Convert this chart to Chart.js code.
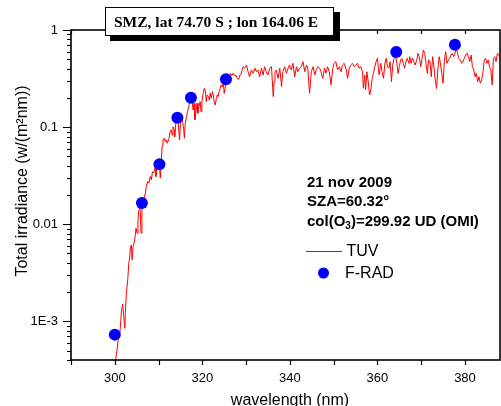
<!DOCTYPE html>
<html>
<head>
<meta charset="utf-8">
<script src="https://cdn.jsdelivr.net/npm/chart.js@4.4.1/dist/chart.umd.min.js"></script>
<style>
html,body{margin:0;padding:0;background:#fff;}
#wrap{width:501px;height:406px;position:relative;}
</style>
</head>
<body>
<div id="wrap"><canvas id="c" width="501" height="406"></canvas></div>
<script>
// ---- data ----
const tuvWavelength = [
299.9,300.16,300.4,300.8,301.07,301.3,301.5,301.8,302.05,302.3,302.4,302.66,302.96,303.2,303.4,303.57,303.8,303.95,304.2,304.55,304.86,305.1,305.3,305.45,305.7,305.84,306.0,306.2,306.6,307.0,
307.2,307.5,307.8,308.1,308.35,308.6,308.86,309.2,309.4,309.6,309.9,310.2,310.4,310.6,310.8,311.0,311.3,311.5,311.75,312.0,312.4,312.66,312.9,313.1,313.3,313.6,313.7,313.95,314.2,314.4,314.6,314.8,315.0,315.2,315.45,315.7,315.9,316.1,316.4,316.6,316.9,317.2,317.4,317.66,317.9,318.1,318.3,318.6,318.8,319.0,319.25,319.5,319.7,319.9,320.2,320.45,320.7,320.9,321.1,321.4,321.6,321.8,322.05,322.3,322.5,322.7,322.95,323.2,323.4,323.6,323.9,324.1,324.3,324.55,324.8,325.0,325.2,325.45,325.7,325.9,326.1,326.45,326.75,327.0,327.4,327.66,327.95,328.3,
328.6,328.9,329.3,329.7,330.1,330.45,330.8,331.2,331.6,332.0,332.4,332.7,333.1,333.5,333.9,334.2,334.6,335.0,335.4,335.8,336.2,336.4,336.6,336.9,337.3,337.7,338.1,338.4,338.8,339.2,339.6,339.9,340.3,340.7,341.1,341.5,341.8,342.2,342.6,343.0,343.4,343.8,344.1,344.5,344.9,345.3,345.7,346.0,346.4,346.8,
347.1,347.5,347.9,348.25,348.6,349.0,349.4,349.8,350.1,350.5,350.9,351.3,351.7,352.0,352.4,352.8,353.2,353.55,353.9,354.3,354.7,355.1,355.45,355.8,356.2,356.6,356.8,357.1,357.3,357.6,357.9,358.2,358.5,358.8,359.1,359.4,359.7,360.0,360.2,360.4,360.75,361.05,361.4,361.7,362.0,362.3,362.6,362.9,363.2,363.5,363.8,364.1,364.4,364.7,365.0,365.3,365.6,365.9,366.2,366.5,366.8,367.2,
367.4,367.7,368.0,368.3,368.6,369.0,369.25,369.55,369.9,370.2,370.5,370.8,371.1,371.4,371.7,372.0,372.3,372.6,372.9,373.2,373.5,373.8,374.1,374.4,374.7,375.0,375.3,375.6,375.9,376.2,376.5,376.8,377.1,377.4,377.7,378.0,378.3,378.6,378.95,379.25,379.55,379.85,380.2,380.5,380.8,381.1,381.4,381.7,382.0,382.3,382.6,382.9,383.2,383.5,383.8,384.1,384.4,384.7,385.0,385.3,385.6,385.9,386.2,386.5,386.8,387.1,387.4,387.7,388.0
];
const tuvIrradiance = [
0.00035,0.00040,0.00046,0.00065,0.00070,0.00089,0.00126,0.0015,0.00112,0.00085,0.0012,0.00196,0.00268,0.0039,0.0046,0.0059,0.0061,0.0043,0.0059,0.0069,0.0091,0.0081,0.011,0.0135,0.0152,0.013,0.0081,0.014,0.0178,0.021,
0.0244,0.0275,0.0265,0.031,0.0286,0.0348,0.0336,0.0378,0.031,0.0393,0.0363,0.0408,0.0298,0.0425,0.063,0.0738,0.0769,0.071,0.0738,0.0683,0.0769,0.09,0.0936,0.083,0.101,0.0936,0.0798,0.1097,0.119,0.1336,0.0936,0.0738,0.1097,0.128,0.114,0.101,0.0769,0.1097,0.128,0.1445,0.1625,0.190,0.206,0.190,0.150,0.176,0.119,0.150,0.176,0.139,0.1625,0.183,0.1445,0.183,0.223,0.251,0.232,0.183,0.214,0.206,0.190,0.223,0.198,0.232,0.214,0.183,0.169,0.198,0.214,0.206,0.241,0.251,0.272,0.26,0.283,0.223,0.251,0.294,0.318,0.344,0.33,0.358,0.337,0.358,0.337,0.344,0.318,0.31,
0.344,0.358,0.419,0.404,0.436,0.372,0.33,0.388,0.358,0.404,0.372,0.388,0.33,0.404,0.344,0.419,0.372,0.344,0.404,0.419,0.206,0.294,0.372,0.388,0.318,0.404,0.261,0.372,0.419,0.358,0.404,0.436,0.388,0.454,0.33,0.419,0.372,0.404,0.419,0.472,0.372,0.436,0.404,0.223,0.372,0.419,0.344,0.388,0.419,0.404,
0.372,0.318,0.404,0.358,0.419,0.372,0.272,0.404,0.454,0.472,0.388,0.419,0.372,0.436,0.454,0.404,0.318,0.404,0.436,0.454,0.419,0.436,0.454,0.404,0.419,0.372,0.251,0.344,0.241,0.372,0.294,0.214,0.241,0.318,0.358,0.419,0.472,0.511,0.404,0.344,0.454,0.372,0.318,0.454,0.511,0.419,0.404,0.472,0.294,0.436,0.511,0.553,0.472,0.358,0.419,0.491,0.511,0.454,0.404,0.472,0.511,0.454,
0.531,0.454,0.511,0.472,0.436,0.491,0.575,0.531,0.419,0.511,0.623,0.575,0.454,0.358,0.491,0.472,0.33,0.531,0.419,0.306,0.25,0.388,0.531,0.454,0.358,0.283,0.491,0.598,0.454,0.491,0.511,0.553,0.575,0.531,0.575,0.648,0.575,0.511,0.491,0.454,0.472,0.511,0.553,0.575,0.531,0.472,0.553,0.419,0.388,0.33,0.358,0.294,0.33,0.283,0.306,0.358,0.491,0.511,0.454,0.491,0.419,0.388,0.272,0.511,0.531,0.472,0.575,0.553,0.53
];
const fradWavelength = [300.0, 306.2, 310.2, 314.3, 317.4, 325.4, 364.3, 377.7];
const fradIrradiance = [0.00073, 0.0165, 0.0415, 0.125, 0.201, 0.311, 0.594, 0.706];

const xTickValues = [300, 320, 340, 360, 380];
const xTickLabels = ['300', '320', '340', '360', '380'];
const xMinorTicks = [290, 300, 310, 320, 330, 340, 350, 360, 370, 380];
const yTickValues = [0.001, 0.01, 0.1, 1];
const yTickLabels = ['1E-3', '0.01', '0.1', '1'];

const titleText = 'SMZ, lat 74.70 S ; lon 164.06 E';
const xTitle = 'wavelength (nm)';
const yTitle = 'Total irradiance (w/(m\u00B2nm))';
const seriesNames = ['TUV', 'F-RAD'];
const infoLine1 = '21 nov 2009';
const infoLine2 = 'SZA=60.32\u00B0';
const infoLine3 = ['col(O', '3', ')=299.92 UD (OMI)'];

// ---- chart ----
const SANS = '"Liberation Sans", Arial, sans-serif';
Chart.defaults.font.family = SANS;
Chart.defaults.color = '#000';

const tuvData = tuvWavelength.map((w, i) => ({x: w, y: tuvIrradiance[i]}));
const fradData = fradWavelength.map((w, i) => ({x: w, y: fradIrradiance[i]}));

const decor = {
  id: 'decor',
  afterDraw(chart) {
    const ctx = chart.ctx;
    const a = chart.chartArea;
    const xs = chart.scales.x, ys = chart.scales.y;
    ctx.save();
    ctx.strokeStyle = '#000';
    ctx.lineWidth = 1.6;
    ctx.strokeRect(a.left, a.top, a.right - a.left, a.bottom - a.top);
    ctx.lineWidth = 1.2;
    ctx.beginPath();
    // x ticks: bottom outward, top inward
    xMinorTicks.forEach(v => {
      const px = Math.round(xs.getPixelForValue(v)) + 0.5;
      ctx.moveTo(px, a.bottom); ctx.lineTo(px, a.bottom + 5);
      ctx.moveTo(px, a.top); ctx.lineTo(px, a.top + 4);
    });
    // y ticks: left outward; majors long, minors short
    for (let e = -4; e <= 0; e++) {
      for (let k = 1; k <= 9; k++) {
        const v = k * Math.pow(10, e);
        if (v < ys.min * 0.999 || v > ys.max * 1.001) continue;
        const py = Math.round(ys.getPixelForValue(v)) + 0.5;
        const len = (k === 1) ? 8 : 4;
        ctx.moveTo(a.left - len, py); ctx.lineTo(a.left, py);
      }
    }
    ctx.stroke();

    // title box with shadow
    ctx.fillStyle = '#000';
    ctx.fillRect(110, 12, 230, 29);
    ctx.fillStyle = '#fff';
    ctx.fillRect(105, 7, 229, 29);
    ctx.lineWidth = 1;
    ctx.strokeStyle = '#000';
    ctx.strokeRect(105.5, 7.5, 228, 28);
    ctx.fillStyle = '#000';
    ctx.font = 'bold 15.5px "Liberation Serif", "Times New Roman", serif';
    ctx.textBaseline = 'alphabetic';
    ctx.textAlign = 'left';
    ctx.fillText(titleText, 114, 26.5);

    // axis titles
    ctx.font = '16px ' + SANS;
    ctx.textAlign = 'center';
    ctx.fillText(xTitle, 290, 405);
    ctx.save();
    ctx.translate(27, 181);
    ctx.rotate(-Math.PI / 2);
    ctx.fillText(yTitle, 0, 0);
    ctx.restore();

    // info text
    ctx.textAlign = 'left';
    ctx.textBaseline = 'middle';
    ctx.font = 'bold 15px ' + SANS;
    ctx.fillText(infoLine1, 307, 182.5);
    ctx.fillText(infoLine2, 307, 202);
    let x0 = 307;
    ctx.fillText(infoLine3[0], x0, 221.5);
    x0 += ctx.measureText(infoLine3[0]).width;
    ctx.font = 'bold 10px ' + SANS;
    ctx.fillText(infoLine3[1], x0, 226.5);
    x0 += ctx.measureText(infoLine3[1]).width;
    ctx.font = 'bold 15px ' + SANS;
    ctx.fillText(infoLine3[2], x0, 221.5);

    // legend
    ctx.strokeStyle = '#ff0000';
    ctx.lineWidth = 1;
    ctx.beginPath();
    ctx.moveTo(306, 251.5); ctx.lineTo(342, 251.5);
    ctx.stroke();
    ctx.fillStyle = '#0000ff';
    ctx.beginPath();
    ctx.arc(323.5, 273, 5.5, 0, Math.PI * 2);
    ctx.fill();
    ctx.fillStyle = '#000';
    ctx.font = '16px ' + SANS;
    ctx.fillText(seriesNames[0], 346.5, 252);
    ctx.fillText(seriesNames[1], 345, 273.5);
    ctx.restore();
  }
};

new Chart(document.getElementById('c'), {
  type: 'scatter',
  data: {
    datasets: [
      {
        label: seriesNames[1],
        data: fradData,
        pointRadius: 6,
        pointBackgroundColor: '#0000ff',
        pointBorderWidth: 0,
        showLine: false
      },
      {
        label: seriesNames[0],
        data: tuvData,
        showLine: true,
        borderColor: '#ff0000',
        borderWidth: 1,
        pointRadius: 0,
        tension: 0
      }
    ]
  },
  options: {
    responsive: false,
    animation: false,
    events: [],
    layout: {autoPadding: false, padding: {left: 0, right: 1, top: 30, bottom: 0}},
    plugins: {legend: {display: false}, title: {display: false}, tooltip: {enabled: false}},
    scales: {
      x: {
        type: 'linear', min: 290, max: 388,
        grid: {display: false, drawTicks: false},
        border: {display: false},
        afterBuildTicks: s => { s.ticks = xTickValues.map(v => ({value: v})); },
        afterFit: s => { s.height = 46; s.paddingLeft = 0; s.paddingRight = 0; },
        ticks: {
          padding: 11, autoSkip: false, maxRotation: 0,
          font: {size: 13},
          callback: (v, i) => xTickLabels[i]
        }
      },
      y: {
        type: 'logarithmic', min: 0.0004, max: 1,
        grid: {display: false, drawTicks: false},
        border: {display: false},
        afterBuildTicks: s => { s.ticks = yTickValues.map(v => ({value: v})); },
        afterFit: s => { s.width = 71; s.paddingTop = 0; s.paddingBottom = 0; },
        ticks: {
          padding: 13, autoSkip: false,
          font: {size: 13},
          callback: (v, i) => yTickLabels[i]
        }
      }
    }
  },
  plugins: [decor]
});
</script>
</body>
</html>
